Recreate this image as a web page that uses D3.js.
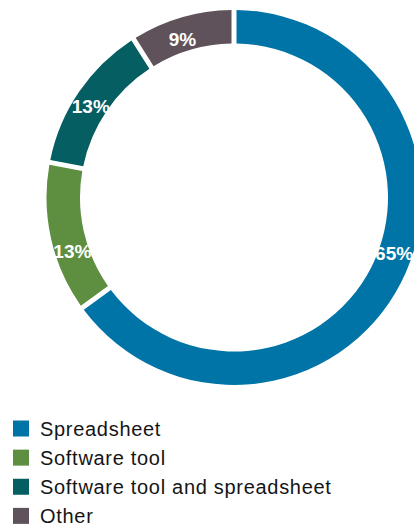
<!DOCTYPE html>
<html>
<head>
<meta charset="utf-8">
<script src="https://cdn.jsdelivr.net/npm/d3@7"></script>
<style>
  html, body { margin: 0; padding: 0; background: #fff; }
  svg { display: block; }
  text { font-family: "Liberation Sans", Arial, Helvetica, sans-serif; }
</style>
</head>
<body>
<svg id="chart" width="414" height="525"></svg>
<script>
// Share of respondents by tool used
const categories = ["Spreadsheet", "Software tool", "Software tool and spreadsheet", "Other"];
const values = [65, 13, 13, 9];
const valueLabels = ["65%", "13%", "13%", "9%"];
const colors = ["#0074a6", "#5e8f40", "#055e62", "#5f525a"];

const W = 414, H = 525;
const cx = 234, cy = 197.5;
const outerR = 187.5, innerR = 154;
const gap = 5;

// Small nudges so labels sit where they read best inside the ring
const labelNudge = [[8, -22], [5, 17], [-2, 5], [-4, 6]];

const svg = d3.select("#chart");

const pie = d3.pie().sort(null).value(d => d.value);
const arc = d3.arc()
  .innerRadius(innerR)
  .outerRadius(outerR)
  .padRadius(outerR)
  .padAngle(gap / outerR);

const data = categories.map((c, i) => ({ name: c, value: values[i], label: valueLabels[i], color: colors[i] }));
const arcs = pie(data);

const g = svg.append("g").attr("transform", `translate(${cx},${cy})`);

g.selectAll("path.slice")
  .data(arcs)
  .join("path")
  .attr("class", "slice")
  .attr("d", arc)
  .attr("fill", d => d.data.color);

g.selectAll("text.pct")
  .data(arcs)
  .join("text")
  .attr("class", "pct")
  .attr("transform", (d, i) => {
    const [x, y] = arc.centroid(d);
    return `translate(${x + labelNudge[i][0]},${y + labelNudge[i][1]})`;
  })
  .attr("text-anchor", "middle")
  .attr("dy", "0.35em")
  .attr("fill", "#fff")
  .attr("font-weight", "bold")
  .attr("font-size", "19px")
  .text(d => d.data.label);

// Legend
const legendY = d3.scaleBand().domain(categories).range([414.5, 531]).paddingInner(0);
const legend = svg.append("g");
const rows = legend.selectAll("g.row")
  .data(data)
  .join("g")
  .attr("class", "row")
  .attr("transform", d => `translate(13,${legendY(d.name)})`);

rows.append("rect")
  .attr("x", 0)
  .attr("y", 6)
  .attr("width", 16)
  .attr("height", 16)
  .attr("fill", d => d.color);

rows.append("text")
  .attr("x", 27)
  .attr("y", 21.5)
  .attr("font-size", "20px")
  .attr("letter-spacing", "0.7px")
  .attr("fill", "#151515")
  .text(d => d.name);
</script>
</body>
</html>
